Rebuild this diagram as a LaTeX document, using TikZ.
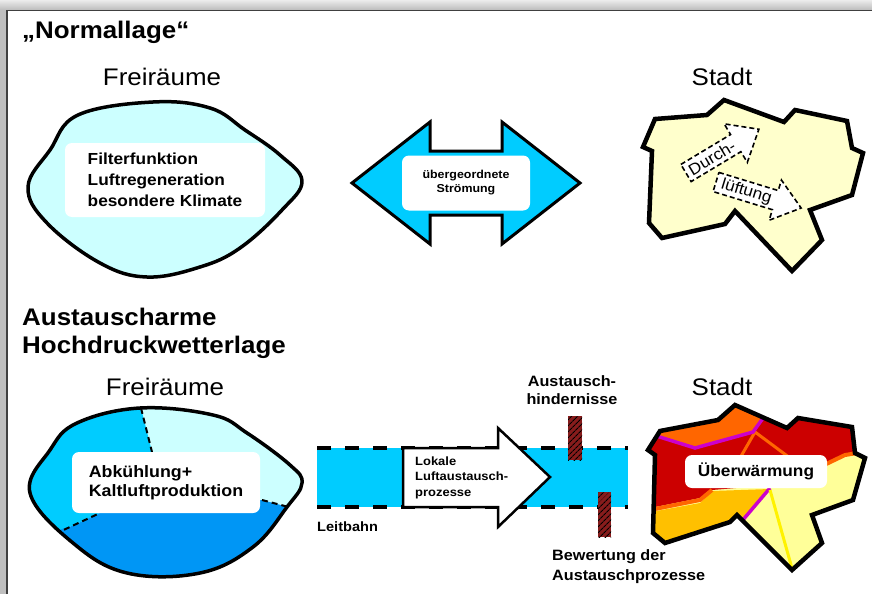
\documentclass[tikz,border=0pt]{standalone}
\usepackage{fontspec}
\setmainfont{Liberation Sans}[FakeStretch=1.08]
\usetikzlibrary{patterns,patterns.meta}
\definecolor{cyanA}{RGB}{0,204,255}
\definecolor{lcyan}{RGB}{204,255,255}
\definecolor{dblue}{RGB}{0,150,245}
\definecolor{cityY}{RGB}{255,255,204}
\definecolor{cRed}{RGB}{204,0,0}
\definecolor{cOrange}{RGB}{255,102,0}
\definecolor{cGold}{RGB}{255,192,0}
\definecolor{cLY}{RGB}{255,255,153}
\definecolor{cMag}{RGB}{204,0,204}
\definecolor{hatchred}{RGB}{135,28,28}
\begin{document}
\begin{tikzpicture}[x=1pt,y=-1pt,
  lbl/.style={inner sep=0pt, anchor=base},
  titlefont/.style={font=\fontsize{24}{28}\selectfont\bfseries},
  headfont/.style={font=\fontsize{24}{28}\selectfont},
  wbox/.style={fill=white, rounded corners=7pt, inner sep=0pt},
  outl/.style={draw=black, line width=3.5pt, line join=round},
  cityoutl/.style={draw=black, line width=4.5pt, line join=miter},
  dashbound/.style={draw=black, line width=2pt, dash pattern=on 6pt off 4pt},
  bandline/.style={draw=black, line width=3.5pt, dash pattern=on 14pt off 14pt},
  darr/.style={draw=black, fill=white, line width=1.6pt, line join=miter,
    dash pattern=on 5pt off 3pt},
  darrtext/.style={inner sep=0pt, font=\fontsize{16}{16}\selectfont},
  hatch/.style={pattern={Lines[angle=45,distance=4pt,line width=1.1pt]}, pattern color=black},
]
\useasboundingbox (0,0) rectangle (872,594);
\fill[white] (0,0) rectangle (872,594);
\shade[top color=gray!15, bottom color=gray!55] (0,0) rectangle (872,10.5);
\fill[gray!50] (0,10) rectangle (7,594);
\draw[line width=1.5pt, black!75] (7,594) -- (7,10.5) -- (872,10.5);

% titles
\node[lbl, anchor=base west, titlefont] (t1) at (22,39) {„Normallage“};
\node[lbl, anchor=base west, titlefont] (t2) at (22,325) {Austauscharme};
\node[lbl, anchor=base west, titlefont] (t3) at (22,353) {Hochdruckwetterlage};
\node[lbl, headfont] (f1) at (162,85) {Freiräume};
\node[lbl, headfont] (s1) at (722,85) {Stadt};
\node[lbl, headfont] (f2) at (165,395) {Freiräume};
\node[lbl, headfont] (s2) at (722,395) {Stadt};

% top Freiraum blob
\draw[outl, fill=lcyan] plot[smooth cycle, tension=0.65] coordinates {
 (78,115) (153,102) (210,108) (245,130) (280,155) (302,181) (282,210) (240,248)
 (200,267) (147,277) (100,263) (47,223) (28,187) (50,150)};
\node[wbox, minimum width=200pt, minimum height=74pt, align=left,
  font=\fontsize{16}{21}\selectfont\bfseries] (ftxt) at (165,180)
  {Filterfunktion\\Luftregeneration\\besondere Klimate};

% double arrow
\draw[line width=3pt, fill=cyanA, line join=miter] (352,183) -- (430,122) -- (430,151)
  -- (502,151) -- (502,122) -- (580,183) -- (502,244) -- (502,215) -- (430,215)
  -- (430,244) -- cycle;
\node[wbox, minimum width=128pt, minimum height=55pt, align=center,
  font=\fontsize{11.5}{14}\selectfont\bfseries] (ueb) at (466,183) {übergeordnete\\Strömung};

% top city
\draw[cityoutl, fill=cityY] (655,119) -- (707,115) -- (724,100) -- (784,122) -- (795,110)
  -- (847,121) -- (852,148) -- (863,153) -- (852,195) -- (810,210) -- (822,240)
  -- (792,271) -- (735,211) -- (725,224) -- (662,238) -- (649,223) -- (652,151)
  -- (643,147) -- cycle;
\begin{scope}[shift={(686,173)}, rotate=31]
  \draw[darr] (0,-10) -- (58,-10) -- (58,-22.5) -- (85,0) -- (58,22.5) -- (58,10)
    -- (0,10) -- cycle;
  \node[darrtext, rotate=31] (durch) at (30,0.5) {Durch-};
\end{scope}
\begin{scope}[shift={(716,182)}, rotate=-17]
  \draw[darr] (0,-10) -- (62,-10) -- (62,-21) -- (89,0) -- (62,21) -- (62,10)
    -- (0,10) -- cycle;
  \node[darrtext, rotate=-17] (lueft) at (32,0.5) {lüftung};
\end{scope}

% bottom Freiraum blob
\begin{scope}
\clip plot[smooth cycle, tension=0.65] coordinates {
 (77,423) (140,408) (213,415) (247,433) (290,465) (302,483) (287,507) (253,547)
 (200,573) (127,573) (73,543) (30,493) (50,450)};
\fill[lcyan] (0,380) rectangle (330,600);
\fill[cyanA] (0,380) -- (139,380) -- (141,408) -- (152,452) -- (155,508) -- (100,513)
  -- (72,526) -- (0,552) -- cycle;
\fill[dblue] (0,548) -- (72,526) -- (100,513) -- (180,506) -- (262,500) -- (292,508)
  -- (330,505) -- (330,600) -- (0,600) -- cycle;
\draw[dashbound] (141,408) -- (152,452);
\draw[dashbound] (55,534) -- (72,526) -- (100,513);
\draw[dashbound] (262,500) -- (300,510);
\end{scope}
\draw[outl] plot[smooth cycle, tension=0.65] coordinates {
 (77,423) (140,408) (213,415) (247,433) (290,465) (302,483) (287,507) (253,547)
 (200,573) (127,573) (73,543) (30,493) (50,450)};
\node[wbox, minimum width=188pt, minimum height=61pt, align=left,
  font=\fontsize{16.5}{19.5}\selectfont\bfseries] (abk) at (166,482.5)
  {Abkühlung+\\Kaltluftproduktion};

% Leitbahn band
\fill[cyanA] (317,448) rectangle (628,507);
\draw[bandline] (317,448) -- (628,448);
\draw[bandline] (317,507) -- (628,507);
\draw[line width=2.5pt, fill=white, line join=miter] (403,448) -- (498,448) -- (498,428)
  -- (550,477) -- (498,527) -- (498,507) -- (403,507) -- cycle;
\node[anchor=west, align=left, inner sep=0pt, font=\fontsize{12}{15.5}\selectfont\bfseries]
  (lok) at (415,477.5) {Lokale\\Luftaustausch-\\prozesse};
\node[lbl, anchor=base west, font=\fontsize{13.5}{16}\selectfont\bfseries] (leit) at (317,531) {Leitbahn};

% obstacles
\fill[hatchred] (568,416) rectangle (582,460);
\fill[hatch] (568,416) rectangle (582,460);
\fill[hatchred] (598,492) rectangle (611,537);
\fill[hatch] (598,492) rectangle (611,537);
\node[align=center, inner sep=0pt, font=\fontsize{15}{18}\selectfont\bfseries] (hind) at (572,390)
  {Austausch-\\hindernisse};
\node[anchor=west, align=left, inner sep=0pt, font=\fontsize{15}{20}\selectfont\bfseries] (bew) at (552,567)
  {Bewertung der\\Austauschprozesse};

% bottom city
\begin{scope}
\clip (660,431) -- (718,420) -- (735,405) -- (787,428) -- (798,418) -- (852,427)
  -- (855,453) -- (865,458) -- (853,500) -- (812,515) -- (822,543) -- (792,570)
  -- (737,515) -- (730,522) -- (665,543) -- (653,533) -- (655,455) -- (648,450) -- cycle;
\fill[cLY] (600,390) rectangle (880,590);
\fill[cRed] (640,400) -- (870,400) -- (870,452) -- (845,456) -- (826,464) -- (790,478)
  -- (760,486) -- (712,490) -- (700,498) -- (650,508) -- (640,509) -- cycle;
\fill[cOrange] (640,400) -- (768,400) -- (764,418) -- (753,432) -- (695,448) -- (656,437)
  -- (640,437) -- cycle;
\fill[cGold] (640,514) -- (700,503) -- (712,491) -- (770,489) -- (744,519) -- (740,600)
  -- (640,600) -- cycle;
\draw[cOrange, line width=4pt] (640,512) -- (700,500) -- (712,490);
\draw[cOrange, line width=3pt] (740,458) -- (755,432) -- (790,458);
\draw[cOrange, line width=4pt] (822,466) -- (845,455) -- (870,451);
\draw[cMag, line width=3.5pt] (650,434) -- (695,448) -- (753,432) -- (766,414);
\draw[cMag, line width=3.5pt] (770,488) -- (742,521);
\draw[yellow, line width=3pt] (770,490) -- (793,572);
\end{scope}
\draw[cityoutl] (660,431) -- (718,420) -- (735,405) -- (787,428) -- (798,418) -- (852,427)
  -- (855,453) -- (865,458) -- (853,500) -- (812,515) -- (822,543) -- (792,570)
  -- (737,515) -- (730,522) -- (665,543) -- (653,533) -- (655,455) -- (648,450) -- cycle;
\node[wbox, minimum width=142pt, minimum height=33pt, font=\fontsize{16}{16}\selectfont\bfseries]
  (ueber) at (756,471.5) {Überwärmung};
\end{tikzpicture}
\end{document}
